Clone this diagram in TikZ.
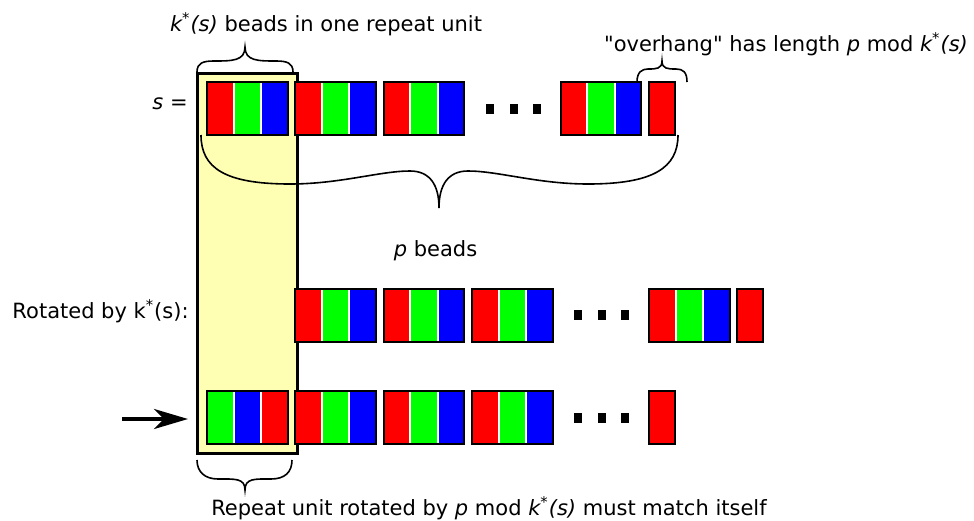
\documentclass[tikz,border=0pt]{standalone}
\usepackage{fontspec}
\setmainfont{DejaVu Sans}[Ligatures=TeXOff]
\usetikzlibrary{arrows.meta}
\definecolor{unityellow}{RGB}{255,255,180}
\tikzset{
  unitline/.style={line width=1pt, draw=black},
  bracecurve/.style={line width=0.8pt},
  lbl/.style={inner sep=0pt, font=\fontsize{10.5}{12.6}\selectfont},
  pointer/.style={line width=2pt, -{Stealth[length=17pt, width=10pt, inset=5pt]}}
}
\def\bead(#1,#2)[#3]{\fill[#3] (#1,#2) rectangle ({#1+25.5},{#2+53});}
\def\beadunit(#1,#2)[#3,#4,#5]{%
  \fill[white] (#1,#2) rectangle ({#1+80.5},{#2+53});
  \bead(#1,#2)[#3]
  \bead({#1+27.5},#2)[#4]
  \bead({#1+55},#2)[#5]
  \draw[unitline] (#1,#2) rectangle ({#1+80.5},{#2+53});}
\def\onebead(#1,#2)[#3]{%
  \bead(#1,#2)[#3]
  \draw[unitline] (#1,#2) rectangle ({#1+26},{#2+53});}
\def\beaddots(#1,#2){%
  \fill (#1+13.6,#2+21.5) rectangle ++(8,10);
  \fill (#1+37.4,#2+21.5) rectangle ++(8,10);
  \fill (#1+60.6,#2+21.5) rectangle ++(8,10);}

\begin{document}
\begin{tikzpicture}[x=0.5pt, y=-0.5pt]
			%%%%% START %%%%%
			\useasboundingbox (0,0) rectangle (974,520);
			
			\draw[line width=1.5pt, fill=unityellow] (197,73) rectangle (297,453);
			
			% s
			\beadunit(207,82)[red,green,blue]
			\beadunit(295.4,82)[red,green,blue]
			\beadunit(383.8,82)[red,green,blue]
			\beaddots(472.2,82)
			\beadunit(560.6,82)[red,green,blue]
			\onebead(649,82)[red]
			
			% rotated
			\beadunit(295.4,288.5)[red,green,blue]
			\beadunit(383.8,288.5)[red,green,blue]
			\beadunit(472.2,288.5)[red,green,blue]
			\beaddots(560.6,288.5)
			\beadunit(649,288.5)[red,green,blue]
			\onebead(737.4,288.5)[red]
			
			% third row
			\beadunit(207,391)[green,blue,red]
			\beadunit(295.4,391)[red,green,blue]
			\beadunit(383.8,391)[red,green,blue]
			\beadunit(472.2,391)[red,green,blue]
			\beaddots(560.6,391)
			\onebead(649,391)[red]
			
			\draw[bracecurve] (197,72) .. controls (197,63) and (203,61) .. (214,61) .. controls (232,61) and (245,61) .. (245,47) .. controls (245,61) and (258,61) .. (276,61) .. controls (287,61) and (293,63) .. (293,72);
			\draw[bracecurve] (637,82) .. controls (637,72) and (642,69) .. (648,69) .. controls (656,69) and (662,69) .. (662,61) .. controls (662,69) and (668,69) .. (676,69) .. controls (683,69) and (687,72) .. (687,82);
			\draw[bracecurve] (201,135) .. controls (201,168) and (225,184) .. (290,184) .. controls (340,184) and (380,171) .. (410,171) .. controls (430,171) and (439,185) .. (439,208) .. controls (439,185) and (448,171) .. (468,171) .. controls (498,171) and (538,184) .. (588,184) .. controls (653,184) and (678,168) .. (678,135);
			\draw[bracecurve] (197,460) .. controls (197,472) and (205,479) .. (218,479) .. controls (235,479) and (245,478) .. (245,490) .. controls (245,478) and (255,479) .. (271,479) .. controls (285,479) and (292,472) .. (292,460);
			
			\coordinate (arrowtail) at (122,419);
			\coordinate (arrowhead) at (188,419);
			\draw[pointer] (arrowtail) -- (arrowhead);
			
			\node[lbl, anchor=base] (unitlabel) at (326,31.7) {\textit{k\textsuperscript{*}(s)} beads in one repeat unit};
			\node[lbl, anchor=base] (overhanglabel) at (786,51.7) {"overhang" has length \textit{p} mod \textit{k\textsuperscript{*}(s)}};
			\node[lbl, anchor=base east] (slabel) at (188,109) {\textit{s} =};
			\node[lbl, anchor=base] (beadslabel) at (435.5,256) {\textit{p} beads};
			\node[lbl, anchor=base east] (rotlabel) at (189,318) {Rotated by k\textsuperscript{*}(s):};
			\node[lbl, anchor=base] (matchlabel) at (489,515) {Repeat unit rotated by \textit{p} mod \textit{k\textsuperscript{*}(s)} must match itself};
			
			%%%%% END %%%%%
\end{tikzpicture}
\end{document}
